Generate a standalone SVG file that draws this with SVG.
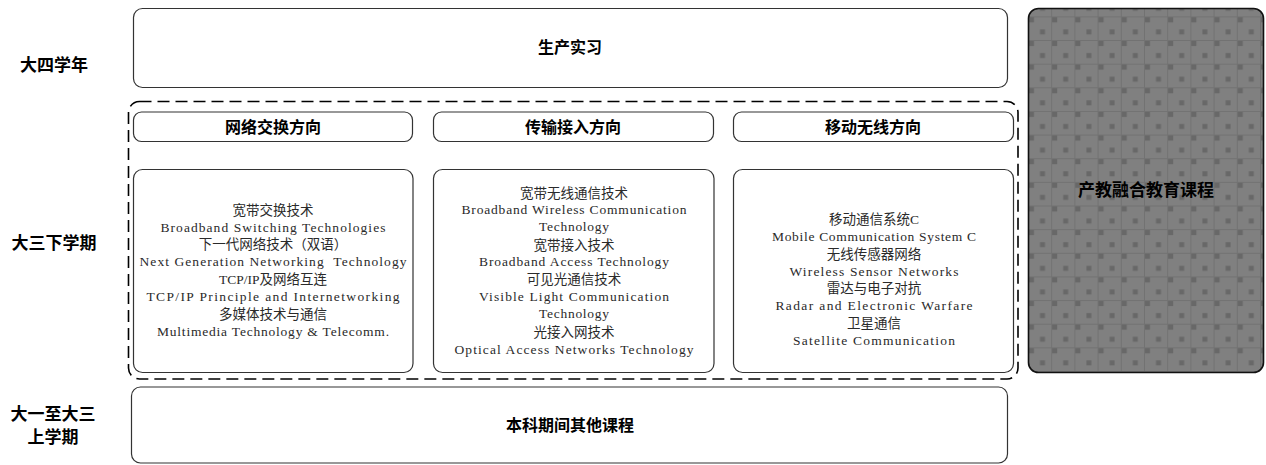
<svg xmlns="http://www.w3.org/2000/svg" width="1266" height="465" viewBox="0 0 1266 465">
<style>
.box{fill:#fff;stroke:#333;stroke-width:1.2}
.lbl{font-family:"Noto Sans CJK SC","Liberation Sans",sans-serif;font-weight:bold;font-size:17px;fill:#000;text-anchor:middle}
.ttl{font-family:"Noto Sans CJK SC","Liberation Sans",sans-serif;font-weight:bold;font-size:16px;fill:#000;text-anchor:middle}
.en,.zh,.mx{text-anchor:middle;fill:#2a2a2a;white-space:pre}
.en{font-family:"Liberation Serif","Noto Sans CJK SC",serif;font-size:13.5px}
.zh{font-family:"Noto Sans CJK SC",sans-serif;font-size:13.5px}
.mx{font-size:13.5px}
.le{font-family:"Liberation Serif",serif}
.lz{font-family:"Noto Sans CJK SC",sans-serif}
</style>
<defs>
<pattern id="grid" patternUnits="userSpaceOnUse" x="1028" y="16.4" width="23.2" height="23.64">
<rect width="23.2" height="23.64" fill="#808080"/>
<path d="M0.5 0V23.64M0 0.5H23.2" stroke="#727272" stroke-width="1" fill="none"/>
<rect x="1" y="1" width="5" height="5" fill="#686868"/>
<rect x="12" y="13" width="5" height="5" fill="#686868"/>
</pattern>
</defs>

<g id="labels">
<text class="lbl" x="54" y="71">大四学年</text>
<text class="lbl" x="54" y="249">大三下学期</text>
<text class="lbl" x="53" y="420">大一至大三</text>
<text class="lbl" x="53" y="443">上学期</text>
</g>

<g id="practice">
<rect class="box" x="133.5" y="8.5" width="874" height="79" rx="9"/>
<text class="ttl" x="570" y="53">生产实习</text>
</g>

<g id="directions">
<rect x="128.5" y="101.5" width="889.5" height="277.5" rx="11" fill="none" stroke="#000" stroke-width="1.6" stroke-dasharray="12,6"/>
</g>

<g id="dir1">
<rect class="box" x="133.5" y="112" width="279" height="29.5" rx="8"/>
<text class="ttl" x="273" y="133">网络交换方向</text>
</g>
<g id="dir2">
<rect class="box" x="433.5" y="112" width="280" height="29.5" rx="8"/>
<text class="ttl" x="573" y="133">传输接入方向</text>
</g>
<g id="dir3">
<rect class="box" x="733.5" y="112" width="280" height="29.5" rx="8"/>
<text class="ttl" x="873" y="133">移动无线方向</text>
</g>

<g id="courses1">
<rect class="box" x="133.5" y="169.5" width="279.5" height="203" rx="9"/>
<text class="zh" x="273" y="215">宽带交换技术</text>
<text class="en" x="273" y="231.5" textLength="225" lengthAdjust="spacing">Broadband Switching Technologies</text>
<text class="zh" x="273" y="249">下一代网络技术（双语）</text>
<text class="en" x="273" y="266" textLength="267" lengthAdjust="spacing">Next Generation Networking  Technology</text>
<text class="mx" x="273" y="283.5"><tspan class="le">TCP/IP</tspan><tspan class="lz">及网络互连</tspan></text>
<text class="en" x="273" y="300.5" textLength="253" lengthAdjust="spacing">TCP/IP Principle and Internetworking</text>
<text class="zh" x="273" y="318.5">多媒体技术与通信</text>
<text class="en" x="273" y="335.5" textLength="232" lengthAdjust="spacing">Multimedia Technology &amp; Telecomm.</text>
</g>

<g id="courses2">
<rect class="box" x="433.5" y="169.5" width="280.5" height="203" rx="9"/>
<text class="zh" x="574" y="197.5">宽带无线通信技术</text>
<text class="en" x="574" y="214" textLength="225" lengthAdjust="spacing">Broadband Wireless Communication</text>
<text class="en" x="574" y="231" textLength="70" lengthAdjust="spacing">Technology</text>
<text class="zh" x="574" y="249.5">宽带接入技术</text>
<text class="en" x="574" y="266" textLength="190" lengthAdjust="spacing">Broadband Access Technology</text>
<text class="zh" x="574" y="284">可见光通信技术</text>
<text class="en" x="574" y="301" textLength="190" lengthAdjust="spacing">Visible Light Communication</text>
<text class="en" x="574" y="318" textLength="70" lengthAdjust="spacing">Technology</text>
<text class="zh" x="574" y="336.5">光接入网技术</text>
<text class="en" x="574" y="353.5" textLength="239" lengthAdjust="spacing">Optical Access Networks Technology</text>
</g>

<g id="courses3">
<rect class="box" x="733.5" y="169.5" width="280" height="203" rx="9"/>
<text class="mx" x="874" y="224"><tspan class="lz">移动通信系统</tspan><tspan class="le">C</tspan></text>
<text class="en" x="874" y="241" textLength="204" lengthAdjust="spacing">Mobile Communication System C</text>
<text class="zh" x="874" y="259">无线传感器网络</text>
<text class="en" x="874" y="275.5" textLength="169" lengthAdjust="spacing">Wireless Sensor Networks</text>
<text class="zh" x="874" y="293">雷达与电子对抗</text>
<text class="en" x="874" y="310" textLength="197" lengthAdjust="spacing">Radar and Electronic Warfare</text>
<text class="zh" x="874" y="328">卫星通信</text>
<text class="en" x="874" y="345" textLength="162" lengthAdjust="spacing">Satellite Communication</text>
</g>

<g id="industry">
<rect x="1028.5" y="8.5" width="235" height="364" rx="10" fill="url(#grid)" stroke="#111" stroke-width="1.6"/>
<text class="ttl" x="1146" y="196" style="font-size:17px">产教融合教育课程</text>
</g>

<g id="others">
<rect class="box" x="131.5" y="387" width="876" height="76" rx="9"/>
<text class="ttl" x="570" y="431">本科期间其他课程</text>
</g>

<g id="connectors"/>
</svg>
